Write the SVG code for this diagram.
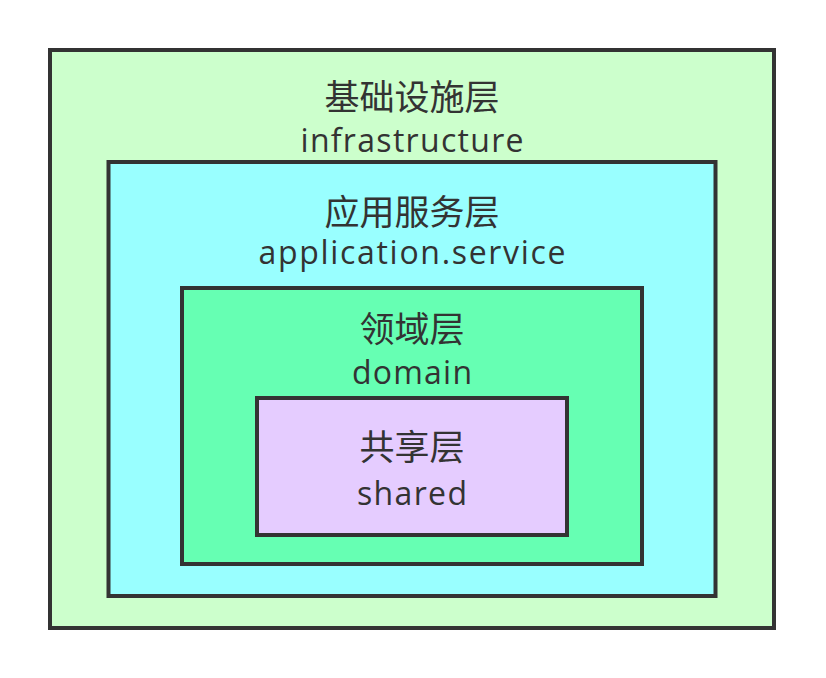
<svg xmlns="http://www.w3.org/2000/svg" width="826" height="678" viewBox="0 0 826 678">
<style>
.box{stroke:#333333;stroke-width:4}
.zh{font-family:"Noto Sans CJK SC","Noto Sans",sans-serif;font-size:35px;fill:#333333;text-anchor:middle}
.en{font-family:"Open Sans","Noto Sans",sans-serif;font-size:32px;fill:#333333;text-anchor:middle}
</style>
<rect width="826" height="678" fill="#ffffff"/>
<g id="infrastructure">
<rect class="box" x="50" y="50" width="724" height="578" fill="#ccffcc"/>
<text class="zh" x="412" y="110">基础设施层</text>
<text class="en" x="412" y="152" textLength="223">infrastructure</text>
</g>
<g id="application-service">
<rect class="box" x="108.5" y="162" width="607" height="434" fill="#99ffff"/>
<text class="zh" x="412" y="225">应用服务层</text>
<text class="en" x="412" y="264" textLength="307">application.service</text>
</g>
<g id="domain">
<rect class="box" x="182" y="288" width="460" height="276" fill="#66ffb3"/>
<text class="zh" x="412" y="342">领域层</text>
<text class="en" x="412" y="384" textLength="120">domain</text>
</g>
<g id="shared">
<rect class="box" x="257" y="398" width="310" height="137" fill="#e5ccff"/>
<text class="zh" x="412" y="460">共享层</text>
<text class="en" x="412" y="505" textLength="110">shared</text>
</g>
<g id="connectors"></g>
</svg>
